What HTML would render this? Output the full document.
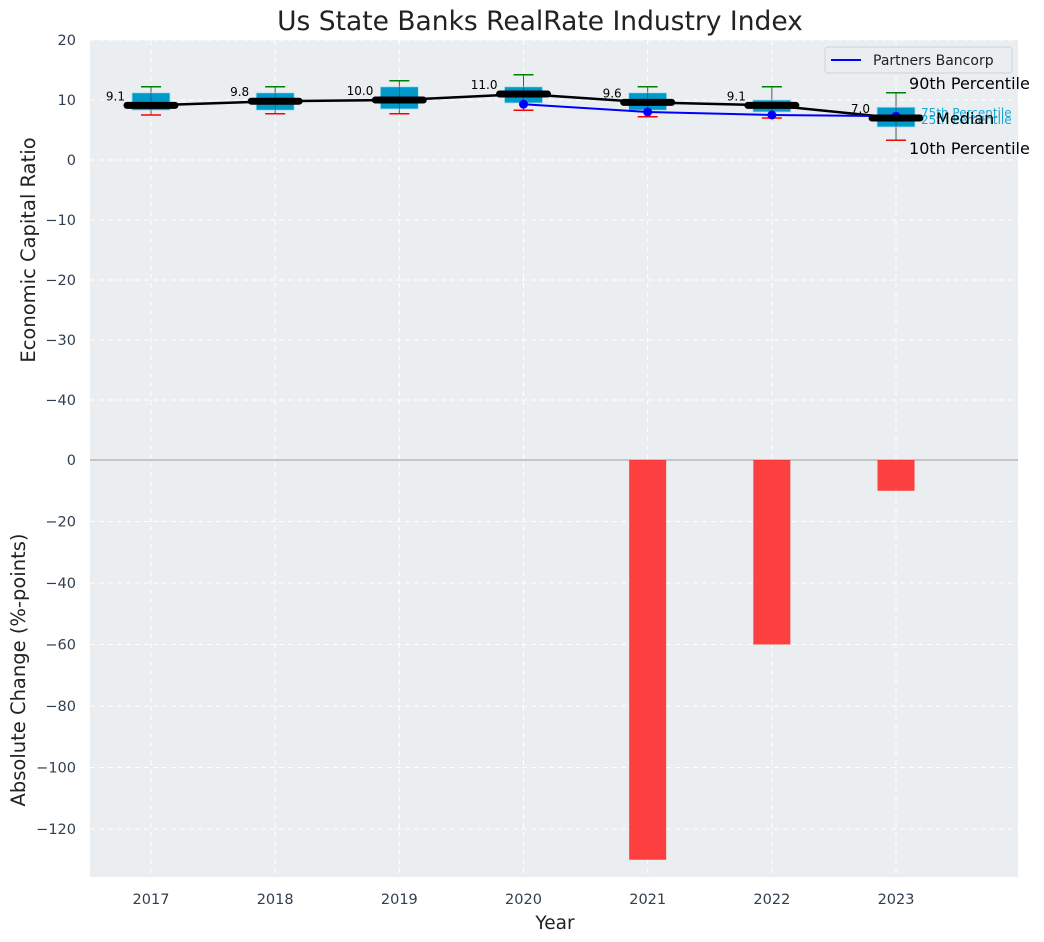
<!DOCTYPE html>
<html><head><meta charset="utf-8"><style>
body{margin:0;background:#fff;}
svg{display:block;font-family:"DejaVu Sans","Liberation Sans",sans-serif;}
</style></head><body>
<svg id="chart" width="1044" height="942"></svg>
<script>
const years=['2017','2018','2019','2020','2021','2022','2023'];
const p90=[12.2,12.2,13.2,14.2,12.2,12.2,11.2];
const q3=[11.2,11.2,12.2,12.2,11.2,10.0,8.8];
const med=[9.1,9.8,10.0,11.0,9.6,9.1,7.0];
const q1=[8.3,8.3,8.5,9.5,8.3,8.0,5.5];
const p10=[7.5,7.7,7.7,8.3,7.2,7.0,3.3];
const bancorpYears=[3,4,5,6];
const bancorp=[9.3,8.0,7.5,7.3];
const changeYears=[4,5,6];
const changes=[-130,-60,-10];
const topTicks=[20,10,0,-10,-20,-30,-40];
const botTicks=[0,-20,-40,-60,-80,-100,-120];

const NS='http://www.w3.org/2000/svg';
const svg=document.getElementById('chart');
function el(t,a,p){const e=document.createElementNS(NS,t);for(const k in a)e.setAttribute(k,a[k]);(p||svg).appendChild(e);return e;}
const L=90,R=1018,T=40,M=460,B=877;
const x=i=>151+i*124.17;
const yT=v=>160-6*v;
const yB=v=>460-v*(61.5/20);
const txtCol='#2f3e50';

let bg=el('rect',{x:L,y:T,width:R-L,height:M-T,fill:'#eaeef0'});

let bg2=el('rect',{x:L,y:M,width:R-L,height:B-M,fill:'#eaeef0'});


years.forEach((yr,i)=>{
  el('line',{x1:x(i),x2:x(i),y1:T,y2:B,stroke:'#fff','stroke-dasharray':'5,4','stroke-width':1});
  const t=el('text',{x:x(i),y:904,'text-anchor':'middle','font-size':14.5,fill:txtCol});t.textContent=yr;
  
});
topTicks.forEach(v=>{
  el('line',{x1:L,x2:R,y1:yT(v),y2:yT(v),stroke:'#fff','stroke-dasharray':'5,4'});
  const t=el('text',{x:76,y:yT(v)+5,'text-anchor':'end','font-size':14.5,fill:txtCol});t.textContent=v<0?'\u2212'+(-v):v;
  
});
botTicks.forEach(v=>{
  el('line',{x1:L,x2:R,y1:yB(v),y2:yB(v),stroke:'#fff','stroke-dasharray':'5,4'});
  const t=el('text',{x:76,y:yB(v)+5,'text-anchor':'end','font-size':14.5,fill:txtCol});t.textContent=v<0?'\u2212'+(-v):v;
  
});
el('line',{x1:L,x2:R,y1:M,y2:M,stroke:'#b8b8b8','stroke-width':1.5});

changeYears.forEach((yi,k)=>{
  const v=changes[k];
  const b=el('rect',{x:x(yi)-18.5,y:yB(0),width:37,height:yB(v)-yB(0),fill:'#ff2020','fill-opacity':0.85});
  
});

years.forEach((yr,i)=>{
  const g=el('g',{});
  
  el('line',{x1:x(i),x2:x(i),y1:yT(p90[i]),y2:yT(p10[i]),stroke:'#555','stroke-width':1},g);
  el('rect',{x:x(i)-19,y:yT(q3[i]),width:38,height:yT(q1[i])-yT(q3[i]),fill:'#0099cc',stroke:'#aee0f0','stroke-width':0.8},g);
  el('line',{x1:x(i),x2:x(i),y1:yT(q3[i]),y2:yT(q1[i]),stroke:'#333','stroke-width':0.8,'stroke-opacity':0.6},g);
  el('line',{x1:x(i)-10,x2:x(i)+10,y1:yT(p90[i]),y2:yT(p90[i]),stroke:'green','stroke-width':1.5},g);
  el('line',{x1:x(i)-10,x2:x(i)+10,y1:yT(p10[i]),y2:yT(p10[i]),stroke:'red','stroke-width':1.5},g);
});
let pts=years.map((_,i)=>x(i)+','+yT(med[i])).join(' ');
let ml=el('polyline',{points:pts,fill:'none',stroke:'#000','stroke-width':2.5});

let bp=el('polyline',{points:bancorpYears.map((yi,k)=>x(yi)+','+yT(bancorp[k])).join(' '),fill:'none',stroke:'#0000ff','stroke-width':2});

bancorpYears.forEach((yi,k)=>{
  const c=el('circle',{cx:x(yi),cy:yT(bancorp[k]),r:4.5,fill:'#0000ff'});
  
});
years.forEach((yr,i)=>{
  const m=el('line',{x1:x(i)-24,x2:x(i)+24,y1:yT(med[i]),y2:yT(med[i]),stroke:'#000','stroke-width':7,'stroke-linecap':'round'});
  
  const t=el('text',{x:x(i)-26,y:yT(med[i])-5,'text-anchor':'end','font-size':12,fill:'#000'});t.textContent=med[i].toFixed(1);
  
});
const ax=x(6);
function ann(tx,ty,s,size,col,name){const t=el('text',{x:tx,y:ty,'font-size':size,fill:col});t.textContent=s;}
ann(ax+13,yT(p90[6])-4,'90th Percentile',16,'#000','p90-annotation');
ann(ax+13,yT(p10[6])+14,'10th Percentile',16,'#000','p10-annotation');
ann(ax+25,yT(q3[6])+10,'75th Percentile',12,'#17a8d8','q3-annotation');
ann(ax+25,yT(q1[6])-3,'25th Percentile',12,'#17a8d8','q1-annotation');
ann(ax+40,yT(med[6])+6,'Median',16,'#000','median-annotation');

const lg=el('g',{});
el('rect',{x:825,y:47,width:187,height:26,rx:3,fill:'#eaeef0',stroke:'#cfd3d6'},lg);
el('line',{x1:831,x2:861,y1:60,y2:60,stroke:'#0000ff','stroke-width':2},lg);
const lt=el('text',{x:873,y:65,'font-size':14,fill:'#222'},lg);lt.textContent='Partners Bancorp';

ann(540,30,'Us State Banks RealRate Industry Index',26.5,'#222','chart-title');
svg.lastChild.setAttribute('text-anchor','middle');
ann(555,929,'Year',18.5,'#222','x-axis-title');svg.lastChild.setAttribute('text-anchor','middle');
let yt1=el('text',{x:0,y:0,'font-size':19.5,fill:'#222','text-anchor':'middle',transform:'translate(35,250) rotate(-90)'});yt1.textContent='Economic Capital Ratio';

let yt2=el('text',{x:0,y:0,'font-size':19.5,fill:'#222','text-anchor':'middle',transform:'translate(25,670) rotate(-90)'});yt2.textContent='Absolute Change (%-points)';

</script>
</body></html>
